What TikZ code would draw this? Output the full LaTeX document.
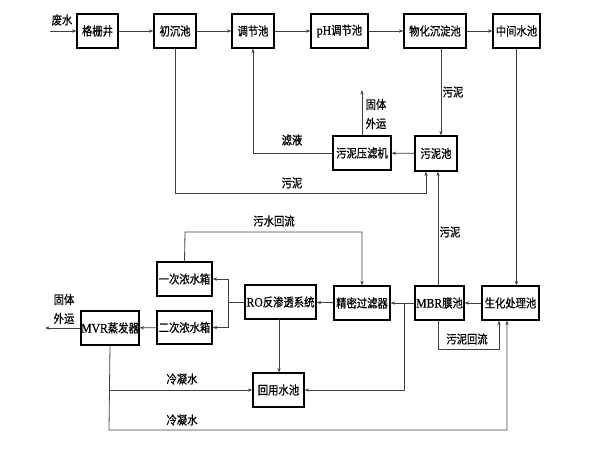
\documentclass[tikz,border=0pt]{standalone}
\usepackage{fontspec}
\setmainfont[FakeStretch=0.86,FakeBold=0.8]{Noto Sans CJK SC}
\newfontfamily\latf[FakeStretch=0.9,FakeBold=0.5]{Liberation Serif}
\usetikzlibrary{arrows.meta}
\begin{document}
\begin{tikzpicture}[x=1pt,y=-1pt,
  box/.style={draw=black, line width=1.1pt, minimum height=34pt, inner sep=0pt, font=\fontsize{12}{13}\selectfont},
  ln/.style={draw=black!75, line width=0.8pt},
  arr/.style={ln, -{Stealth[length=4.5pt,width=3.2pt]}},
  lab/.style={font=\fontsize{12}{19}\selectfont, inner sep=0pt, align=center}]
\useasboundingbox (0,0) rectangle (589,456);
% top row
\node[box, minimum width=41pt] (gs) at (97.5,31) {格栅井};
\node[box, minimum width=42pt] (cc) at (175,31) {初沉池};
\node[box, minimum width=42pt] (tj) at (253,31) {调节池};
\node[box, minimum width=57pt] (ph) at (339.5,31) {{\latf\fontsize{13}{13}\selectfont pH}调节池};
\node[box, minimum width=62pt] (wh) at (435,31) {物化沉淀池};
\node[box, minimum width=47pt] (zj) at (516.5,31) {中间水池};
% sludge
\node[box, minimum width=42pt, minimum height=35pt] (wn) at (436,153.5) {污泥池};
\node[box, minimum width=58pt] (yl) at (362,153) {污泥压滤机};
% lower row
\node[box, minimum width=57pt] (sh) at (510.5,303) {生化处理池};
\node[box, minimum width=49pt] (mbr) at (439.5,303) {{\latf\fontsize{13}{13}\selectfont MBR}膜池};
\node[box, minimum width=56pt] (jm) at (362,303) {精密过滤器};
\node[box, minimum width=71pt] (ro) at (280.5,302) {{\latf\fontsize{13}{13}\selectfont RO}反渗透系统};
\node[box, minimum width=55pt] (yc) at (184.5,279) {一次浓水箱};
\node[box, minimum width=55pt, minimum height=33pt] (ec) at (184.5,327.5) {二次浓水箱};
\node[box, minimum width=58pt] (mvr) at (110,328) {{\latf\fontsize{13}{13}\selectfont MVR}蒸发器};
\node[box, minimum width=51pt] (hy) at (278.5,390) {回用水池};
% coordinates
\coordinate (in) at (50,31);
\coordinate (c1) at (426,193);
\coordinate (c2) at (362,90);
\coordinate (c3) at (441,48);
\coordinate (c4) at (438,286);
\coordinate (c5) at (185,232);
\coordinate (c6) at (228,302);
\coordinate (c7) at (404,303);
\coordinate (c8) at (45,328);
\coordinate (c9) at (109,430);
\coordinate (c10) at (507,430);
\coordinate (c11) at (438,320);
\coordinate (c12) at (499,349);
\coordinate (c13) at (279,319);
% connectors top
\draw[arr] (in) -- (gs);
\draw[arr] (gs) -- (cc);
\draw[arr] (cc) -- (tj);
\draw[arr] (tj) -- (ph);
\draw[arr] (ph) -- (wh);
\draw[arr] (wh) -- (zj);
\draw[arr] (c3) -- (c3 |- wn.north);
\draw[arr] (wn) -- (yl);
\draw[arr] (yl.north) -- (c2);
\draw[arr] (yl.west) -| (tj.south);
\draw[arr] (cc.south) |- (c1) -- (c1 |- wn.south);
\draw[arr] (c4) -- (c4 |- wn.south);
\draw[arr] (zj.south) -- (zj.south |- sh.north);
% lower connectors
\draw[arr] (sh) -- (mbr);
\draw[arr] (mbr) -- (jm);
\draw[arr] (jm) -- (ro);
\draw[ln] (ro.west) -- (c6);
\draw[arr] (c6) |- (yc.east);
\draw[arr] (c6) |- (ec.east);
\draw[arr] (ec) -- (mvr);
\draw[arr] (mvr.west) -- (c8);
\draw[arr] (yc.north) -- (c5) -| (jm.north);
\draw[arr] (c13) -- (c13 |- hy.north);
\draw[arr] (c7) |- (hy.east);
\draw[arr] (mvr.south) -- (c9) -| (c10 |- sh.south);
\draw[arr] (mvr.south |- hy.west) -- (hy.west);
\draw[arr] (c11) |- (c12) -- (c12 |- sh.south);
% labels
\node[lab] (l1) at (62,20) {废水};
\node[lab] (l2) at (453,92) {污泥};
\node[lab] (l3) at (376,114) {固体\\外运};
\node[lab] (l4) at (292,140) {滤液};
\node[lab] (l5) at (292,183) {污泥};
\node[lab] (l6) at (450,232) {污泥};
\node[lab] (l7) at (274,221) {污水回流};
\node[lab] (l8) at (64,309) {固体\\外运};
\node[lab] (l9) at (182,379) {冷凝水};
\node[lab] (l10) at (182,420) {冷凝水};
\node[lab] (l11) at (467,339) {污泥回流};
\end{tikzpicture}
\end{document}
